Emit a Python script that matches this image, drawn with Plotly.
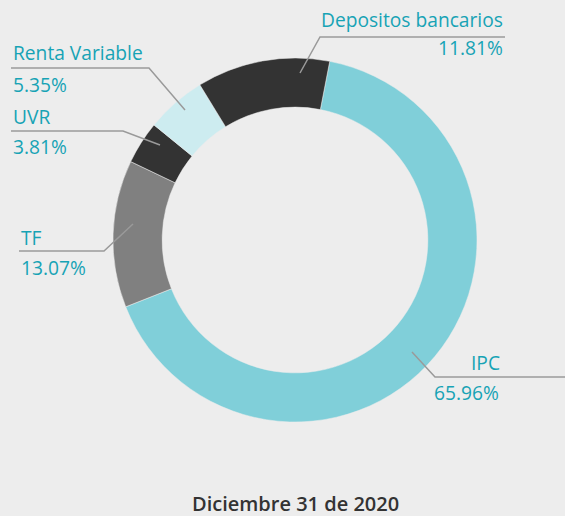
import plotly.graph_objects as go

labels = ["IPC", "TF", "UVR", "Renta Variable", "Depositos bancarios"]
values = [65.96, 13.07, 3.81, 5.35, 11.81]
pct_text = ["65.96%", "13.07%", "3.81%", "5.35%", "11.81%"]
title_text = "Diciembre 31 de 2020"

colors = ["#80CFD9", "#808080", "#333333", "#CDECF0", "#333333"]
W, H = 565, 516

# leader lines in pixel coords: (start, elbow, end), label anchor info
leaders = {
    "IPC": dict(pts=[(412, 352), (435, 377), (565, 377)], lab=(485, 362, "center"), pct=(432, 392, "left")),
    "TF": dict(pts=[(133, 224), (104, 251), (19, 251)], lab=(19, 238, "left"), pct=(19, 267, "left")),
    "UVR": dict(pts=[(160, 145), (123, 131), (11, 131)], lab=(11, 117, "left"), pct=(11, 146, "left")),
    "Renta Variable": dict(pts=[(185, 110), (149, 68), (11, 68)], lab=(11, 53, "left"), pct=(11, 84, "left")),
    "Depositos bancarios": dict(pts=[(300, 73), (320, 37), (505, 37)], lab=(505, 20, "right"), pct=(505, 48, "right")),
}

def px(x):
    return x / W

def py(y):
    return 1 - y / H

fig = go.Figure(go.Pie(
    labels=labels, values=values, hole=0.73, sort=False, direction="clockwise",
    rotation=11, marker=dict(colors=colors, line=dict(color="#EDEDED", width=0.5)),
    textinfo="none", hoverinfo="label+percent", showlegend=False,
    domain=dict(x=[px(113), px(477)], y=[py(422), py(58)]),
))

teal = "#17A3B5"
shapes = []
annotations = []
for name, pct in zip(labels, pct_text):
    L = leaders[name]
    p = L["pts"]
    path = "M {} {} L {} {} L {} {}".format(px(p[0][0]), py(p[0][1]), px(p[1][0]), py(p[1][1]), px(p[2][0]), py(p[2][1]))
    shapes.append(dict(type="path", path=path, xref="paper", yref="paper",
                       line=dict(color="#9A9A9A", width=1.5)))
    for (x, y, anc), txt in [(L["lab"], name), (L["pct"], pct)]:
        annotations.append(dict(x=px(x), y=py(y), xref="paper", yref="paper", text=txt,
                                showarrow=False, xanchor=anc, yanchor="middle",
                                font=dict(family="Open Sans", size=19.2, color=teal, weight=400)))

annotations.append(dict(x=px(295), y=py(503), xref="paper", yref="paper", text=title_text,
                        showarrow=False, xanchor="center", yanchor="middle",
                        font=dict(family="Open Sans", size=20, color="#333333", weight=600)))

fig.update_layout(width=W, height=H, margin=dict(l=0, r=0, t=0, b=0),
                  paper_bgcolor="#EDEDED", plot_bgcolor="#EDEDED",
                  shapes=shapes, annotations=annotations)
fig.write_html("out.html", config={"displayModeBar": False},
               post_script="document.body.style.margin='0';document.body.style.overflow='hidden';")
